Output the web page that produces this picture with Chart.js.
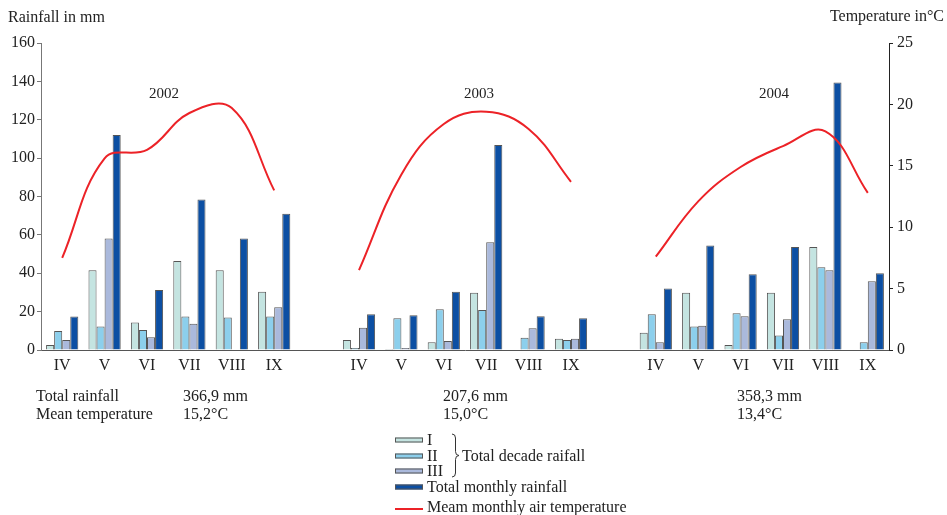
<!DOCTYPE html>
<html>
<head>
<meta charset="utf-8">
<title>Rainfall and temperature 2002-2004</title>
<script src="https://cdn.jsdelivr.net/npm/chart.js@4/dist/chart.umd.min.js"></script>
<style>
  html, body { margin: 0; padding: 0; background: #fff; }
  #wrap { position: relative; width: 947px; height: 515px; }
</style>
</head>
<body>
<div id="wrap"><canvas id="chart" width="947" height="515"></canvas></div>
<script>
  /* =========================
     DATA (Apr..Sep for 2002, 2003, 2004)
  ========================= */
  const months = ['IV', 'V', 'VI', 'VII', 'VIII', 'IX'];
  const years = ['2002', '2003', '2004'];

  // rainfall per decade of the month, mm (null = no rain)
  const decadeI   = [2.6, 41.6, 14.3, 46.4, 41.6, 30.3,   5.2, 0.5, 4.0, 29.9, null, 5.9,   9.0, 29.9, 2.6, 29.9, 53.7, null];
  const decadeII  = [9.9, 12.2, 10.4, 17.4, 16.9, 17.4,   1.0, 16.5, 21.2, 20.9, 6.4, 5.2,   18.6, 12.2, 19.1, 7.5, 43.1, 4.0];
  const decadeIII = [5.2, 58.1, 6.6, 13.7, null, 22.3,   11.6, 1.0, 4.7, 56.2, 11.3, 5.9,   4.0, 12.7, 17.6, 16.0, 41.6, 35.8];
  const monthly   = [17.4, 112.0, 31.3, 78.4, 58.1, 71.0,   18.6, 18.1, 30.4, 106.8, 17.6, 16.5,   32.0, 54.4, 39.5, 53.7, 139.4, 40.0];
  // mean monthly air temperature, °C
  const meanTemp  = [7.5, 15.6, 16.3, 19.3, 19.7, 13.0,   6.5, 14.3, 18.4, 19.4, 18.0, 13.7,   7.6, 12.1, 14.9, 16.6, 17.8, 12.8];

  const totalRain = ['366,9 mm', '207,6 mm', '358,3 mm'];
  const yearTemp = ['15,2°C', '15,0°C', '13,4°C'];

  const rainTicks = [0, 20, 40, 60, 80, 100, 120, 140, 160];
  const tempTicks = [0, 5, 10, 15, 20, 25];

  const colors = {
    d1: '#c4e4e1',
    d2: '#8ccfec',
    d3: '#aab9dc',
    month: '#0c4fa3',
    temp: '#ec2227',
    edge: '#555'
  };

  // one empty slot between years
  function withGaps(arr) {
    const out = [];
    arr.forEach((v, i) => {
      out.push(v);
      if (i % 6 === 5 && i < arr.length - 1) out.push(null);
    });
    return out;
  }

  const labels = [];
  years.forEach((y, i) => {
    labels.push(...months);
    if (i < years.length - 1) labels.push('');
  });

  const FONT = '"Liberation Serif", "Times New Roman", serif';

  /* =========================
     EXTRA TEXT + LEGEND
  ========================= */
  const annotations = {
    id: 'annotations',
    afterDraw(chart) {
      const ctx = chart.ctx;
      ctx.save();
      ctx.fillStyle = '#222';
      ctx.font = '16px ' + FONT;
      ctx.textBaseline = 'alphabetic';
      ctx.textAlign = 'left';

      ctx.fillText('Rainfall in mm', 8, 22);
      ctx.textAlign = 'right';
      ctx.fillText('Temperature in°C', 944, 21);

      // year captions
      ctx.font = '15px ' + FONT;
      ctx.textAlign = 'center';
      [164, 479, 774].forEach((x, i) => ctx.fillText(years[i], x, 98));

      // totals under the chart
      ctx.font = '16px ' + FONT;
      ctx.textAlign = 'left';
      ctx.fillText('Total rainfall', 36, 401);
      ctx.fillText('Mean temperature', 36, 419);
      [183, 443, 737].forEach((x, i) => {
        ctx.fillText(totalRain[i], x, 401);
        ctx.fillText(yearTemp[i], x, 419);
      });

      // legend
      const lx = 395, lw = 28, lh = 5;
      const rows = [
        { y: 440, fill: colors.d1, text: 'I' },
        { y: 456, fill: colors.d2, text: 'II' },
        { y: 471, fill: colors.d3, text: 'III' },
        { y: 487, fill: colors.month, text: 'Total monthly rainfall' }
      ];
      ctx.textBaseline = 'middle';
      ctx.lineWidth = 1;
      rows.forEach(r => {
        ctx.fillStyle = r.fill;
        ctx.fillRect(lx, r.y - lh / 2, lw, lh);
        ctx.strokeStyle = colors.edge;
        ctx.strokeRect(lx + 0.5, r.y - lh / 2 + 0.5, lw - 1, lh - 1);
        ctx.fillStyle = '#222';
        ctx.fillText(r.text, lx + lw + 4, r.y + 1);
      });

      ctx.strokeStyle = colors.temp;
      ctx.lineWidth = 2;
      ctx.beginPath();
      ctx.moveTo(lx, 509);
      ctx.lineTo(lx + lw, 509);
      ctx.stroke();
      ctx.fillStyle = '#222';
      ctx.fillText('Meam monthly air temperature', lx + lw + 4, 508);

      // brace for the three decades
      const bx = 452, bw = 7, top = 434, bottom = 477, mid = (top + bottom) / 2;
      ctx.strokeStyle = '#333';
      ctx.lineWidth = 1;
      ctx.beginPath();
      ctx.moveTo(bx, top);
      ctx.quadraticCurveTo(bx + bw / 2, top, bx + bw / 2, top + 4);
      ctx.lineTo(bx + bw / 2, mid - 4);
      ctx.quadraticCurveTo(bx + bw / 2, mid, bx + bw, mid);
      ctx.quadraticCurveTo(bx + bw / 2, mid, bx + bw / 2, mid + 4);
      ctx.lineTo(bx + bw / 2, bottom - 4);
      ctx.quadraticCurveTo(bx + bw / 2, bottom, bx, bottom);
      ctx.stroke();
      ctx.fillText('Total decade raifall', 462, 457);

      ctx.restore();
    }
  };

  /* =========================
     CHART
  ========================= */
  const barCommon = {
    type: 'bar',
    yAxisID: 'y',
    borderColor: colors.edge,
    borderWidth: 1,
    borderSkipped: 'bottom',
    categoryPercentage: 0.76,
    barPercentage: 1.0,
    order: 1
  };

  new Chart(document.getElementById('chart'), {
    type: 'bar',
    data: {
      labels: labels,
      datasets: [
        {
          type: 'line',
          label: 'Meam monthly air temperature',
          data: withGaps(meanTemp),
          yAxisID: 'y1',
          borderColor: colors.temp,
          borderWidth: 2,
          pointRadius: 0,
          tension: 0.4,
          spanGaps: false,
          order: 0
        },
        { ...barCommon, label: 'I', data: withGaps(decadeI), backgroundColor: colors.d1 },
        { ...barCommon, label: 'II', data: withGaps(decadeII), backgroundColor: colors.d2 },
        { ...barCommon, label: 'III', data: withGaps(decadeIII), backgroundColor: colors.d3 },
        { ...barCommon, label: 'Total monthly rainfall', data: withGaps(monthly), backgroundColor: colors.month }
      ]
    },
    options: {
      responsive: false,
      animation: false,
      layout: { padding: { top: 43, left: 0, right: 0, bottom: 0 } },
      plugins: {
        legend: { display: false },
        tooltip: { enabled: false }
      },
      scales: {
        x: {
          offset: true,
          grid: { display: false, drawTicks: false },
          border: { display: true, color: '#555', width: 1 },
          ticks: {
            autoSkip: false,
            maxRotation: 0,
            padding: 6,
            color: '#222',
            font: { family: FONT, size: 16 }
          },
          afterFit: s => { s.height = 165; }
        },
        y: {
          position: 'left',
          min: 0,
          max: 160,
          afterBuildTicks: s => { s.ticks = rainTicks.map(v => ({ value: v })); },
          grid: { drawOnChartArea: false, tickLength: 4, color: '#777' },
          border: { color: '#777', width: 1 },
          ticks: { padding: 2, color: '#222', font: { family: FONT, size: 16 } },
          afterFit: s => { s.width = 41; }
        },
        y1: {
          position: 'right',
          min: 0,
          max: 25,
          afterBuildTicks: s => { s.ticks = tempTicks.map(v => ({ value: v })); },
          grid: { drawOnChartArea: false, tickLength: 4, color: '#222' },
          border: { color: '#222', width: 1 },
          ticks: { padding: 4, color: '#222', font: { family: FONT, size: 16 } },
          afterFit: s => { s.width = 58; }
        }
      }
    },
    plugins: [annotations]
  });
</script>
</body>
</html>
